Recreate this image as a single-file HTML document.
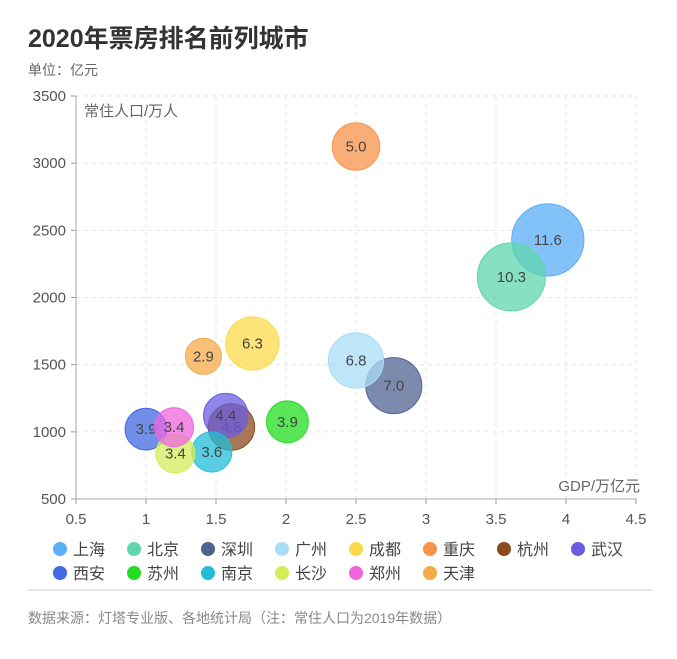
<!DOCTYPE html>
<html><head><meta charset="utf-8"><style>
body{margin:0;background:#fff;width:677px;height:654px;overflow:hidden;font-family:"Liberation Sans","Noto Sans CJK SC",sans-serif}
</style></head><body>
<svg width="677" height="654" xmlns="http://www.w3.org/2000/svg" font-family="Liberation Sans, Noto Sans CJK SC, sans-serif">
<text x="28" y="47" font-size="25" font-weight="bold" fill="#333">2020年票房排名前列城市</text>
<text x="28" y="75" font-size="14" fill="#666">单位：亿元</text>
<g id="grid"></g><g id="axes"></g><g id="bubbles"></g><g id="legend"></g>
<text x="84" y="116" font-size="15" fill="#666">常住人口/万人</text>
<text x="640" y="491" font-size="15" fill="#666" text-anchor="end">GDP/万亿元</text>
<line x1="28" y1="590" x2="652" y2="590" stroke="#ddd" stroke-width="1.5"/>
<text x="28" y="623" font-size="14" fill="#888">数据来源：灯塔专业版、各地统计局（注：常住人口为2019年数据）</text>
</svg>
<script>
const cities=["上海","北京","深圳","广州","成都","重庆","杭州","武汉","西安","苏州","南京","长沙","郑州","天津"];
const gdp=[3.87,3.61,2.77,2.5,1.76,2.5,1.61,1.57,1.0,2.01,1.47,1.21,1.2,1.41];
const population=[2428,2154,1344,1531,1658,3124,1036,1121,1020,1075,850,839,1035,1562];
const boxOffice=[11.6,10.3,7.0,6.8,6.3,5.0,4.8,4.4,3.9,3.9,3.6,3.4,3.4,2.9];
const colors=["#5aaef5","#5fd6ad","#4f6391","#a8dcf5","#fcd94b","#f7934a","#8b4a1c","#6b5ce0","#4169e1","#22dd22","#22bcd8","#d4ec5c","#ee66dd","#f5aa48"];
const xTicks=[0.5,1,1.5,2,2.5,3,3.5,4,4.5];
const yTicks=[500,1000,1500,2000,2500,3000,3500];
const NS="http://www.w3.org/2000/svg";
const X=v=>76+(v-0.5)*140, Y=v=>499-(v-500)*403/3000, R=v=>10.6*Math.sqrt(v);
function mk(t,a,p){const e=document.createElementNS(NS,t);for(const k in a)e.setAttribute(k,a[k]);p.appendChild(e);return e;}
const grid=document.getElementById('grid'),axes=document.getElementById('axes'),bub=document.getElementById('bubbles'),leg=document.getElementById('legend');
xTicks.forEach(t=>{
 if(t>0.5){const l=mk('line',{x1:X(t),x2:X(t),y1:Y(3500),y2:Y(500),stroke:'#e6e6e6','stroke-dasharray':'4,4'},grid);
 }
 const tx=mk('text',{x:X(t),y:524,'font-size':15,fill:'#555','text-anchor':'middle'},axes);tx.textContent=t;
 
 mk('line',{x1:X(t),x2:X(t),y1:499,y2:504,stroke:'#999'},axes);
});
yTicks.forEach(t=>{
 if(t>500){const l=mk('line',{x1:76,x2:636,y1:Y(t),y2:Y(t),stroke:'#e6e6e6','stroke-dasharray':'4,4'},grid);
 }
 const tx=mk('text',{x:66,y:Y(t)+5,'font-size':15,fill:'#555','text-anchor':'end'},axes);tx.textContent=t;
 
 mk('line',{x1:71,x2:76,y1:Y(t),y2:Y(t),stroke:'#999'},axes);
});
const xa=mk('line',{x1:76,x2:636,y1:499,y2:499,stroke:'#aaa'},axes);
const ya=mk('line',{x1:76,x2:76,y1:96,y2:499,stroke:'#aaa'},axes);
cities.forEach((c,i)=>{
 const g=mk('g',{},bub);
 
 
 mk('circle',{cx:X(gdp[i]),cy:Y(population[i]),r:R(boxOffice[i]),fill:colors[i],'fill-opacity':0.75,stroke:colors[i],'stroke-width':1},g);
 const t=mk('text',{x:X(gdp[i]),y:Y(population[i])+5,'font-size':15,fill:'#444','text-anchor':'middle'},g);t.textContent=boxOffice[i].toFixed(1);
 const lx=60+(i%8)*74, ly=i<8?549:573;
 const lg=mk('g',{},leg);
 
 
 mk('circle',{cx:lx,cy:ly,r:7,fill:colors[i]},lg);
 const lt=mk('text',{x:lx+13,y:ly+6,'font-size':16,fill:'#444'},lg);lt.textContent=c;
});
</script>
</body></html>
